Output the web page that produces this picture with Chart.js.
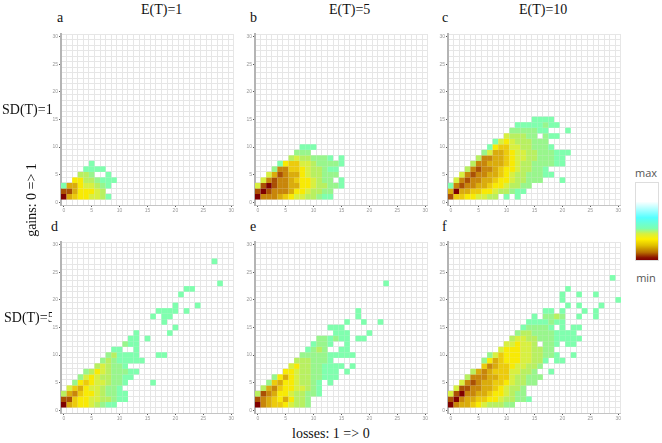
<!DOCTYPE html>
<html>
<head>
<meta charset="utf-8">
<title>gains and losses</title>
<script src="https://cdn.jsdelivr.net/npm/chart.js@4"></script>
<style>
  html, body { margin: 0; padding: 0; background: #fff; }
  #page { position: relative; width: 662px; height: 443px; overflow: hidden; font-family: "Liberation Serif", serif; color: #111; }
  #page canvas { position: absolute; }
  .txt { position: absolute; white-space: nowrap; font-size: 14px; line-height: 16px; z-index: 2; }
  .bar-txt { position: absolute; width: 40px; text-align: center; font: 11px "Open Sans", sans-serif; color: #555; }
  #bar { position: absolute; left: 635px; top: 182px; width: 22px; height: 77px; border: 1px solid #ddd;
    background: linear-gradient(to bottom, #fff 0%, #fff 24%, #c8ffff 31%, #55ffff 45%, #7dffb0 59%, #d8f040 66%, #fff000 73%, #e0c000 81%, #b87000 90%, #8a1000 97%, #7f0000 100%); }
</style>
</head>
<body>
<div id="page">
  <div class="txt" style="left:141px;top:2px">E(T)=1</div>
  <div class="txt" style="left:329px;top:2px">E(T)=5</div>
  <div class="txt" style="left:519px;top:2px">E(T)=10</div>
  <div class="txt" style="left:57px;top:10px">a</div>
  <div class="txt" style="left:250px;top:10px">b</div>
  <div class="txt" style="left:442px;top:10px">c</div>
  <div class="txt" style="left:51px;top:219px">d</div>
  <div class="txt" style="left:250px;top:219px">e</div>
  <div class="txt" style="left:442px;top:219px">f</div>
  <div class="txt" style="left:2px;top:102px">SD(T)=1</div>
  <div class="txt" style="left:4px;top:310px;width:48px;overflow:hidden">SD(T)=5</div>
  <div class="txt" style="left:32px;top:200px;transform:translate(-50%,-50%) rotate(-90deg)">gains: 0 =&gt; 1</div>
  <div class="txt" style="left:292px;top:426px">losses: 1 =&gt; 0</div>
  <div class="bar-txt" style="left:626px;top:165px">max</div>
  <div id="bar"></div>
  <div class="bar-txt" style="left:626px;top:270px">min</div>
</div>
<script>
// tick labels
const tickValues = [0, 5, 10, 15, 20, 25, 30];

// colour of each level, 1 = min ... 10 = lowest counts seen in the picture
const levelColors = ["", "#7f0000", "#aa5004", "#c8860a", "#daac0c", "#eccb0c", "#f8ea04",
  "#d8f040", "#b8f060", "#98f68c", "#7fffae"];

// rows of cells: [gains, first losses, levels] (0 = empty cell)
const panelA = [
  [1, 0, [1, 4, 5, 6, 6, 7, 7, 8, 10]],
  [2, 0, [2, 2, 4, 6, 6, 6, 7, 8]],
  [3, 0, [10, 4, 4, 6, 7, 7, 8, 9, 10]],
  [4, 2, [6, 6, 8, 8, 9, 10, 10, 10]],
  [5, 3, [8, 8, 9, 0, 0, 10]],
  [6, 4, [10, 10, 10, 10]],
  [7, 5, [10]]
];
const panelB = [
  [1, 0, [1, 3, 3, 3, 4, 5, 6, 7, 7, 8, 8, 9, 10, 10]],
  [2, 0, [2, 1, 2, 3, 3, 3, 4, 6, 6, 7, 8, 8, 9, 9]],
  [3, 0, [7, 2, 1, 2, 3, 3, 4, 4, 6, 6, 7, 8, 8, 9, 9, 10]],
  [4, 1, [7, 3, 2, 3, 3, 4, 5, 6, 6, 7, 8, 9, 9, 0, 10]],
  [5, 2, [7, 4, 2, 3, 4, 4, 6, 7, 8, 8, 9, 9, 9]],
  [6, 3, [9, 3, 3, 5, 5, 6, 7, 8, 8, 9, 10, 10]],
  [7, 4, [10, 6, 5, 5, 7, 7, 8, 9, 9, 9, 9, 10]],
  [8, 6, [8, 7, 8, 8, 9, 9, 9, 10, 0, 10]],
  [9, 7, [9, 9, 9]],
  [10, 8, [10, 10, 10]]
];
const panelC = [
  [1, 0, [2, 5, 5, 6, 6, 7, 7, 8, 8, 0, 10, 0, 10]],
  [2, 0, [4, 1, 4, 4, 5, 5, 6, 6, 7, 8, 8, 9, 10, 10]],
  [3, 0, [10, 3, 2, 3, 3, 4, 4, 5, 6, 6, 7, 8, 8, 9, 9]],
  [4, 1, [7, 3, 2, 3, 3, 4, 4, 5, 6, 6, 7, 8, 8, 9, 9, 9]],
  [4, 20, [10]],
  [5, 2, [7, 3, 2, 3, 3, 4, 4, 5, 6, 7, 8, 8, 9, 9, 9, 10, 10]],
  [6, 3, [8, 3, 2, 3, 3, 4, 5, 6, 6, 7, 8, 8, 9, 9, 10]],
  [7, 4, [8, 3, 3, 4, 4, 4, 5, 6, 7, 8, 8, 9, 9, 9, 9, 10, 10]],
  [8, 5, [8, 3, 3, 4, 4, 5, 6, 7, 7, 8, 8, 9, 9, 9, 10, 10]],
  [9, 6, [9, 7, 4, 4, 5, 6, 7, 7, 8, 8, 9, 9, 9, 10, 10, 10]],
  [10, 7, [10, 6, 5, 5, 7, 7, 8, 8, 9, 9, 9, 10]],
  [11, 8, [10, 7, 6, 7, 8, 8, 8, 9, 9, 9]],
  [12, 10, [7, 8, 8, 8, 9, 9, 0, 9, 10, 10]],
  [13, 11, [9, 9, 9, 9, 9, 10, 10]],
  [13, 21, [10]],
  [14, 12, [10, 10, 10, 10, 10, 9, 10, 10]],
  [15, 15, [10, 10, 10, 10]]
];
const panelD = [
  [1, 0, [1, 4, 5, 6, 6, 7, 8, 9, 10, 10]],
  [2, 0, [2, 2, 5, 6, 6, 7, 7, 8, 8, 9, 10, 10]],
  [3, 0, [8, 4, 3, 5, 6, 6, 7, 8, 9, 9, 10, 10]],
  [4, 1, [7, 5, 4, 6, 7, 7, 8, 9, 9, 10]],
  [5, 2, [9, 6, 5, 6, 7, 7, 8, 9, 9, 10]],
  [5, 16, [10]],
  [6, 3, [9, 7, 6, 7, 8, 8, 9, 9, 10, 10]],
  [7, 4, [9, 8, 6, 7, 8, 9, 9, 9, 10, 10]],
  [8, 6, [8, 7, 8, 9, 9, 10]],
  [9, 7, [9, 8, 9, 10, 10, 10, 10, 10]],
  [10, 8, [9, 8, 10, 10, 10, 10]],
  [10, 17, [10, 10]],
  [11, 9, [10, 10]],
  [11, 13, [10]],
  [12, 11, [9, 10, 10]],
  [13, 12, [10, 10]],
  [13, 15, [10]],
  [14, 13, [10]],
  [14, 19, [10]],
  [15, 20, [10]],
  [16, 18, [10]],
  [17, 16, [10]],
  [17, 18, [10, 10]],
  [18, 17, [10, 10, 10, 10]],
  [18, 22, [10]],
  [19, 20, [10]],
  [19, 24, [10]],
  [21, 21, [10]],
  [22, 22, [10, 10]],
  [23, 28, [10]],
  [27, 27, [10]]
];
const panelE = [
  [1, 0, [1, 3, 4, 5, 5, 6, 7, 8, 8, 9]],
  [2, 0, [2, 3, 4, 5, 6, 4, 6, 8, 8, 9]],
  [3, 0, [8, 2, 3, 4, 6, 6, 7, 8, 8, 9, 9, 10]],
  [4, 1, [8, 4, 3, 5, 6, 6, 7, 7, 8, 9, 10]],
  [5, 2, [9, 5, 4, 6, 6, 7, 8, 8, 9, 10, 0, 10]],
  [6, 3, [9, 6, 4, 6, 7, 8, 8, 9, 9, 10, 10, 10]],
  [7, 5, [6, 6, 7, 8, 8, 9, 9, 10, 10, 10, 0, 10]],
  [8, 6, [7, 6, 8, 8, 9, 9, 10, 10, 10, 10, 0, 10]],
  [9, 7, [8, 8, 8, 9, 9, 9, 10]],
  [10, 8, [9, 9, 9, 9, 9, 10, 10, 10, 10, 10]],
  [11, 9, [10, 9, 8, 9, 0, 0, 10, 10]],
  [12, 10, [10, 9, 9, 10, 0, 0, 10]],
  [13, 11, [9, 9, 10, 9, 10, 10, 0, 10, 10]],
  [14, 14, [10, 10, 10]],
  [14, 20, [10]],
  [15, 13, [10, 10, 10]],
  [16, 16, [10]],
  [16, 19, [10]],
  [16, 22, [10]],
  [17, 18, [10]],
  [18, 18, [10]],
  [23, 23, [10]]
];
const panelF = [
  [1, 0, [1, 3, 4, 4, 5, 6, 7, 8, 8, 8, 9, 9]],
  [2, 0, [2, 1, 3, 4, 4, 5, 5, 6, 6, 7, 8, 8, 9, 9, 10]],
  [3, 0, [7, 2, 1, 3, 3, 4, 4, 5, 6, 6, 7, 8, 9, 9]],
  [4, 1, [7, 2, 2, 3, 3, 4, 4, 5, 6, 7, 8, 8, 9]],
  [5, 2, [7, 3, 2, 3, 4, 4, 5, 5, 6, 7, 8, 8, 9, 9]],
  [6, 3, [8, 3, 3, 3, 4, 4, 5, 5, 7, 8, 8, 9, 9, 9]],
  [7, 4, [8, 4, 3, 4, 5, 5, 5, 7, 7, 8, 8, 9]],
  [7, 18, [10]],
  [8, 6, [5, 3, 4, 5, 5, 6, 7, 7, 8, 8, 9]],
  [9, 6, [9, 6, 4, 5, 6, 6, 6, 7, 7, 8, 8, 10]],
  [9, 19, [10, 10]],
  [10, 7, [9, 7, 5, 6, 6, 6, 7, 7, 8, 8, 9, 9, 10]],
  [10, 22, [10]],
  [11, 9, [7, 6, 6, 6, 7, 7, 8, 8, 9, 9]],
  [12, 10, [7, 7, 6, 7, 7, 8, 0, 9, 9, 10, 0, 10, 10]],
  [13, 11, [8, 7, 7, 8, 8, 9, 9, 9, 10, 10, 10, 10, 10]],
  [14, 12, [9, 8, 8, 9, 9, 9, 9, 10, 10, 10, 10]],
  [15, 13, [10, 9, 9, 9, 9, 10, 0, 10, 0, 10, 10]],
  [16, 14, [10, 10, 10, 10, 9, 10, 10]],
  [17, 15, [10, 0, 9, 9, 8, 9]],
  [17, 23, [10]],
  [17, 26, [10]],
  [18, 17, [10, 10, 0, 10]],
  [18, 24, [10]],
  [18, 26, [10]],
  [19, 21, [10]],
  [19, 23, [10]],
  [19, 27, [10]],
  [20, 20, [10]],
  [20, 30, [10]],
  [21, 20, [10]],
  [21, 23, [10]],
  [21, 26, [10]],
  [22, 21, [10]],
  [24, 29, [10]]
];

// where each plot goes on the page
const layout = [
  { rows: panelA, left: 60.7, top: 30 },
  { rows: panelB, left: 255.2, top: 30 },
  { rows: panelC, left: 447.5, top: 30 },
  { rows: panelD, left: 60.5, top: 237.7 },
  { rows: panelE, left: 255.2, top: 237.5 },
  { rows: panelF, left: 447.5, top: 237.5 }
];

const plotW = 174.5;
const plotH = 175.8;
const padLeft = 9;
const padBottom = 10;

// cell edges, the grid runs between the integer values
const edges = [];
for (let i = 0; i <= 31; i++) edges.push(i - 0.5);

function toCells(rows) {
  const cells = [];
  rows.forEach((r) => {
    r[2].forEach((level, i) => {
      if (level) cells.push({ x: r[1] + i, y: r[0], v: level });
    });
  });
  return cells;
}

function labelAxis(size) {
  return {
    type: "linear",
    min: -0.5,
    max: 30.5,
    afterBuildTicks: (s) => { s.ticks = tickValues.map((v) => ({ value: v })); },
    afterFit: (s) => {
      if (s.isHorizontal()) s.height = size;
      else s.width = size;
    },
    grid: { drawOnChartArea: false, drawTicks: true, tickLength: 2, tickColor: "#555" },
    ticks: {
      autoSkip: false,
      maxRotation: 0,
      padding: 1,
      color: "#999",
      font: { size: 5, family: "Liberation Sans" }
    }
  };
}

function gridAxis(axis, pos) {
  return {
    type: "linear",
    axis: axis,
    position: pos,
    min: -0.5,
    max: 30.5,
    afterBuildTicks: (s) => { s.ticks = edges.map((v) => ({ value: v })); },
    afterFit: (s) => {
      if (s.isHorizontal()) s.height = 0;
      else s.width = 0;
    },
    border: { display: false },
    grid: { color: "#e6e6e6", lineWidth: 1, drawTicks: false },
    ticks: { display: false }
  };
}

const page = document.getElementById("page");

layout.forEach((p) => {
  const cv = document.createElement("canvas");
  cv.style.left = p.left - padLeft + "px";
  cv.style.top = p.top + "px";
  page.appendChild(cv);

  const xAxis = labelAxis(padBottom);
  xAxis.position = "bottom";
  xAxis.border = { color: "#c4c4c4", width: 1 };
  const yAxis = labelAxis(padLeft);
  yAxis.position = "left";
  yAxis.border = { color: "#b4b4b4", width: 2 };

  cv.width = plotW + padLeft;
  cv.height = plotH + padBottom;

  new Chart(cv, {
    type: "scatter",
    data: {
      datasets: [{
        data: toCells(p.rows),
        pointStyle: "rect",
        borderWidth: 0,
        backgroundColor: (c) => (c.raw ? levelColors[c.raw.v] : "#fff"),
        pointRadius: (c) => c.chart.scales.x.width / 31 / 2 / Math.SQRT1_2
      }]
    },
    options: {
      responsive: false,
      animation: false,
      layout: { padding: 0 },
      plugins: { legend: { display: false }, tooltip: { enabled: false } },
      scales: {
        xg: gridAxis("x", "bottom"),
        yg: gridAxis("y", "left"),
        x: xAxis,
        y: yAxis
      }
    },
    plugins: [{
      id: "white",
      beforeDraw: (chart) => {
        chart.ctx.fillStyle = "#fff";
        chart.ctx.fillRect(0, 0, chart.width, chart.height);
      }
    }]
  });
});
</script>
</body>
</html>
